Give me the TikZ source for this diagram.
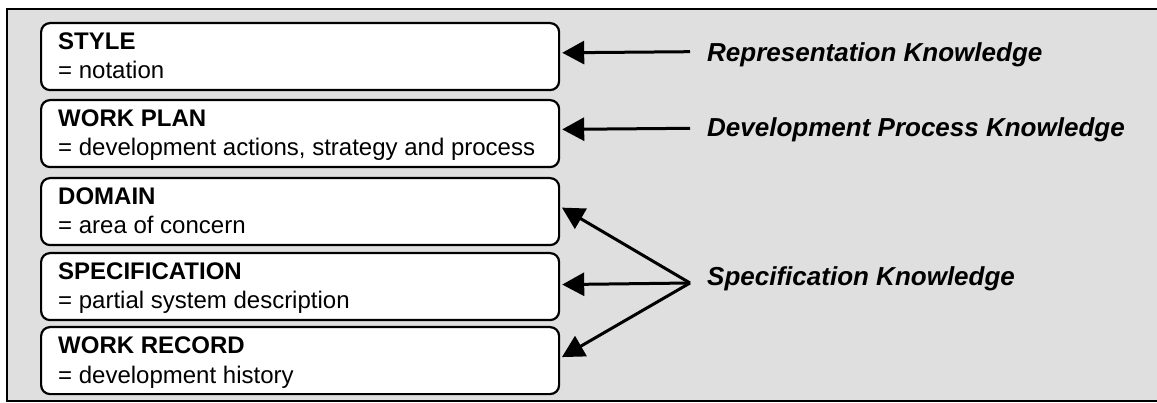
\documentclass[tikz,border=0pt]{standalone}
\usepackage{fontspec}
\setmainfont{Liberation Sans}
\usetikzlibrary{arrows.meta}
\definecolor{bggray}{HTML}{DFDFDF}
\begin{document}
\begin{tikzpicture}[x=1pt,y=-1pt,
  box/.style={draw=black, line width=2.2pt, rounded corners=9pt, fill=white,
    minimum width=518pt, minimum height=67pt, anchor=north west, inner sep=0pt},
  head/.style={anchor=base west, font=\fontsize{24}{28}\selectfont\bfseries, inner sep=0pt},
  desc/.style={anchor=base west, font=\fontsize{24}{28}\selectfont, inner sep=0pt},
  lab/.style={anchor=base west, font=\fontsize{26}{30}\selectfont\bfseries\itshape, inner sep=0pt},
  arr/.style={line width=3pt, shorten >=2pt, -{Triangle[length=22pt,width=23pt]}}
]
\useasboundingbox (0,0) rectangle (1157,403);
\clip (0,0) rectangle (1157,403);
\fill[white] (0,0) rectangle (1157,403);
\draw[line width=2pt, fill=bggray] (7,9) rectangle (1175,401);

% boxes
\node[box] (b1) at (40,22) {};
\node[box] (b2) at (40,99) {};
\node[box] (b3) at (40,177) {};
\node[box] (b4) at (40,252) {};
\node[box] (b5) at (40,326) {};

% box texts
\node[head] (h1) at (58,50) {STYLE};
\node[desc] (d1) at (58,79) {= notation};
\node[head] (h2) at (58,127) {WORK PLAN};
\node[desc] (d2) at (58,156) {= development actions, strategy and process};
\node[head] (h3) at (58,205) {DOMAIN};
\node[desc] (d3) at (58,234) {= area of concern};
\node[head] (h4) at (58,280) {SPECIFICATION};
\node[desc] (d4) at (58,309) {= partial system description};
\node[head] (h5) at (58,354) {WORK RECORD};
\node[desc] (d5) at (58,383) {= development history};

% labels
\node[lab] (l1) at (707,62) {Representation Knowledge};
\node[lab] (l2) at (707,137) {Development Process Knowledge};
\node[lab] (l3) at (707,286) {Specification Knowledge};

% arrow starts
\coordinate (s1) at (690,51.7);
\coordinate (s2) at (690,128.3);
\coordinate (s3) at (690,283);

\draw[arr] (s1) -- ([yshift=3.8pt]b1.east);
\draw[arr] (s2) -- ([yshift=4.2pt]b2.east);
\draw[arr] (s3) -- ([yshift=5pt]b3.east);
\draw[arr] (s3) -- ([yshift=2pt]b4.east);
\draw[arr] (s3) -- ([yshift=2.5pt]b5.east);
\end{tikzpicture}
\end{document}
